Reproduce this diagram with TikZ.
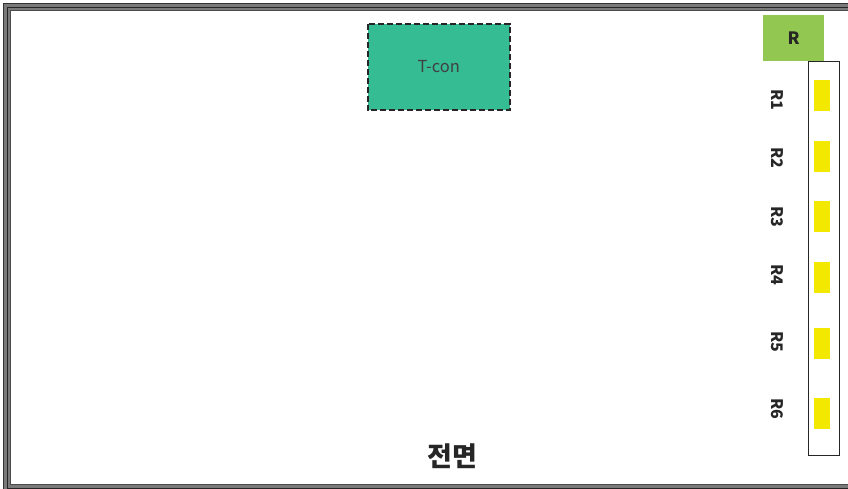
\documentclass[tikz,border=0pt]{standalone}
\usepackage{fontspec}
\setmainfont{Noto Sans CJK KR}
\definecolor{tgreen}{HTML}{36BC93}
\definecolor{rgreen}{HTML}{92C851}
\definecolor{ryel}{HTML}{F2E800}
\definecolor{framegray}{HTML}{7A7A7A}
\begin{document}
\begin{tikzpicture}[x=1pt,y=-1pt,
  ledbox/.style={fill=ryel,draw=none,minimum width=16pt,minimum height=31pt,inner sep=0pt,anchor=north west},
  rlabel/.style={font=\fontsize{16}{16}\selectfont\bfseries,text=black!85,rotate=-90,anchor=center}]
\useasboundingbox (0,0) rectangle (848,488);
\begin{scope}
\clip (0,0) rectangle (848,488);
% frame
\draw[framegray,line width=8pt] (7,7) rectangle (852,488);
\draw[black!80,line width=0.8pt] (3.4,3.4) rectangle (856,492);
\draw[black!85,line width=1pt] (7.5,7.5) rectangle (852,488);
\draw[black!70,line width=0.8pt] (10.6,10.6) rectangle (848,484);
\end{scope}
% T-con
\node[fill=tgreen,minimum width=142pt,minimum height=86pt,anchor=north west,inner sep=0pt,font=\fontsize{16.5}{16.5}\selectfont,text=black!75] (tcon) at (367.5,23.5) {T-con};
\draw[black!85,line width=2pt,dash pattern=on 6pt off 3pt] (tcon.north west) rectangle (tcon.south east);
% R box
\node[fill=rgreen,minimum width=61pt,minimum height=46pt,anchor=north west,inner sep=0pt,font=\fontsize{17}{17}\selectfont\bfseries,text=black!85] (rbox) at (763,15) {R};
% column
\node[draw=black!85,line width=1.2pt,minimum width=31pt,minimum height=394pt,anchor=north west,inner sep=0pt] (col) at (808,61) {};
% LEDs
\node[ledbox] (l1) at (814,80) {};
\node[ledbox] (l2) at (814,141) {};
\node[ledbox] (l3) at (814,201) {};
\node[ledbox] (l4) at (814,262) {};
\node[ledbox] (l5) at (814,328) {};
\node[ledbox] (l6) at (814,398) {};
% labels
\node[rlabel] (r1) at (777,100) {R1};
\node[rlabel] (r2) at (777,158) {R2};
\node[rlabel] (r3) at (777,217) {R3};
\node[rlabel] (r4) at (777,275) {R4};
\node[rlabel] (r5) at (777,342) {R5};
\node[rlabel] (r6) at (777,409) {R6};
% title
\node[font=\fontsize{27}{27}\selectfont\bfseries,text=black!85] (title) at (452,456) {전면};
\end{tikzpicture}
\end{document}
